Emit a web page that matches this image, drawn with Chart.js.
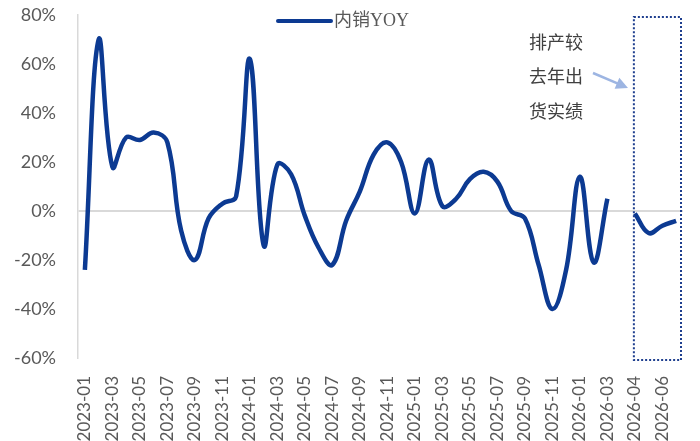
<!DOCTYPE html>
<html>
<head>
<meta charset="utf-8">
<script src="https://cdn.jsdelivr.net/npm/chart.js"></script>
<style>
  html, body { margin: 0; padding: 0; background: #fff; }
  #wrap { width: 700px; height: 441px; }
</style>
</head>
<body>
<div id="wrap"><canvas id="c" width="700" height="441"></canvas></div>
<script>
// months on the x axis, one blank slot before the forecast part
const months = [
  '2023-01','2023-02','2023-03','2023-04','2023-05','2023-06','2023-07','2023-08','2023-09','2023-10','2023-11','2023-12',
  '2024-01','2024-02','2024-03','2024-04','2024-05','2024-06','2024-07','2024-08','2024-09','2024-10','2024-11','2024-12',
  '2025-01','2025-02','2025-03','2025-04','2025-05','2025-06','2025-07','2025-08','2025-09','2025-10','2025-11','2025-12',
  '2026-01','2026-02','2026-03','',
  '2026-04','2026-05','2026-06','2026-07'
];

// 内销YOY, %
const domesticYoy = [
  -24, 70, 18, 30, 29, 32, 28, -8, -20, -3, 3, 6,
  62, -14, 19, 15, -2, -15, -22, -4, 8, 23, 28, 20,
  -1, 21, 2, 5, 13, 16, 12, 0, -3, -22, -40, -24,
  14, -21, 5, null,
  -1, -9, -6, -4
];

const yTicks = [-60, -40, -20, 0, 20, 40, 60, 80];
const seriesName = '内销YOY';
const noteLines = ['排产较', '去年出', '货实绩'];
const forecastFrom = '2026-04';

const lineColor = '#0C3A92';

// legend, note, arrow and dotted box
const overlay = {
  id: 'overlay',
  afterDraw(chart) {
    const ctx = chart.ctx;
    const x = chart.scales.x, y = chart.scales.y;
    const area = chart.chartArea;
    ctx.save();

    // legend
    ctx.strokeStyle = lineColor;
    ctx.lineWidth = 4;
    ctx.lineCap = 'round';
    ctx.beginPath();
    ctx.moveTo(278, 21);
    ctx.lineTo(331, 21);
    ctx.stroke();
    ctx.fillStyle = '#595959';
    ctx.font = "18px 'Liberation Serif', 'Noto Sans CJK SC'";
    ctx.textBaseline = 'middle';
    ctx.textAlign = 'left';
    ctx.fillText(seriesName, 334, 21);

    // note
    ctx.fillStyle = '#404040';
    ctx.font = "18px 'Noto Sans CJK SC'";
    noteLines.forEach((t, i) => ctx.fillText(t, 529, 42 + i * 34.5));

    // arrow
    const ax0 = 593, ay0 = 73, ax1 = 628, ay1 = 88;
    const ang = Math.atan2(ay1 - ay0, ax1 - ax0);
    ctx.strokeStyle = '#9DB5E2';
    ctx.fillStyle = '#9DB5E2';
    ctx.lineWidth = 2.5;
    ctx.lineCap = 'butt';
    ctx.beginPath();
    ctx.moveTo(ax0, ay0);
    ctx.lineTo(ax1 - 9 * Math.cos(ang), ay1 - 9 * Math.sin(ang));
    ctx.stroke();
    ctx.beginPath();
    ctx.moveTo(ax1, ay1);
    ctx.lineTo(ax1 - 12 * Math.cos(ang) + 6 * Math.sin(ang), ay1 - 12 * Math.sin(ang) - 6 * Math.cos(ang));
    ctx.lineTo(ax1 - 12 * Math.cos(ang) - 6 * Math.sin(ang), ay1 - 12 * Math.sin(ang) + 6 * Math.cos(ang));
    ctx.closePath();
    ctx.fill();

    // dotted box round the forecast months
    const left = x.getPixelForValue(months.indexOf(forecastFrom)) - 1;
    const right = area.right - 2;
    const top = y.getPixelForValue(80) + 2;
    const bottom = y.getPixelForValue(-60) + 2;
    ctx.strokeStyle = '#1F3F8F';
    ctx.lineWidth = 2;
    ctx.setLineDash([2, 2]);
    ctx.strokeRect(left, top, right - left, bottom - top);
    ctx.restore();
  }
};

new Chart(document.getElementById('c'), {
  type: 'line',
  data: {
    labels: months,
    datasets: [{
      label: seriesName,
      data: domesticYoy,
      borderColor: lineColor,
      borderWidth: 4.5,
      pointRadius: 0,
      tension: 0.4,
      spanGaps: false,
      fill: false
    }]
  },
  options: {
    responsive: false,
    animation: false,
    layout: { padding: { top: 15, right: 17, left: 0, bottom: 0 } },
    plugins: { legend: { display: false }, tooltip: { enabled: false } },
    scales: {
      x: {
        offset: true,
        grid: { display: false, drawTicks: true, tickLength: 15, tickColor: 'rgba(0,0,0,0)' },
        border: { display: false },
        afterFit(s) { s.height = 83; },
        ticks: {
          autoSkip: false,
          minRotation: 90,
          maxRotation: 90,
          padding: 3,
          color: '#595959',
          font: { family: 'Lato', size: 17 },
          callback(v, i) { return i % 2 === 0 ? months[i] : ''; }
        }
      },
      y: {
        min: yTicks[0],
        max: yTicks[yTicks.length - 1],
        afterFit(s) { s.width = 78; },
        afterBuildTicks(s) { s.ticks = yTicks.map(v => ({ value: v })); },
        grid: {
          drawTicks: true,
          tickLength: 19,
          tickColor: 'rgba(0,0,0,0)',
          color: c => c.tick && c.tick.value === 0 ? '#D9D9D9' : 'rgba(0,0,0,0)',
          lineWidth: 2
        },
        border: { color: '#D9D9D9', width: 1.5 },
        ticks: {
          padding: 3,
          color: '#595959',
          font: { family: 'Lato', size: 18 },
          callback: v => v + '%'
        }
      }
    }
  },
  plugins: [overlay]
});
</script>
</body>
</html>
